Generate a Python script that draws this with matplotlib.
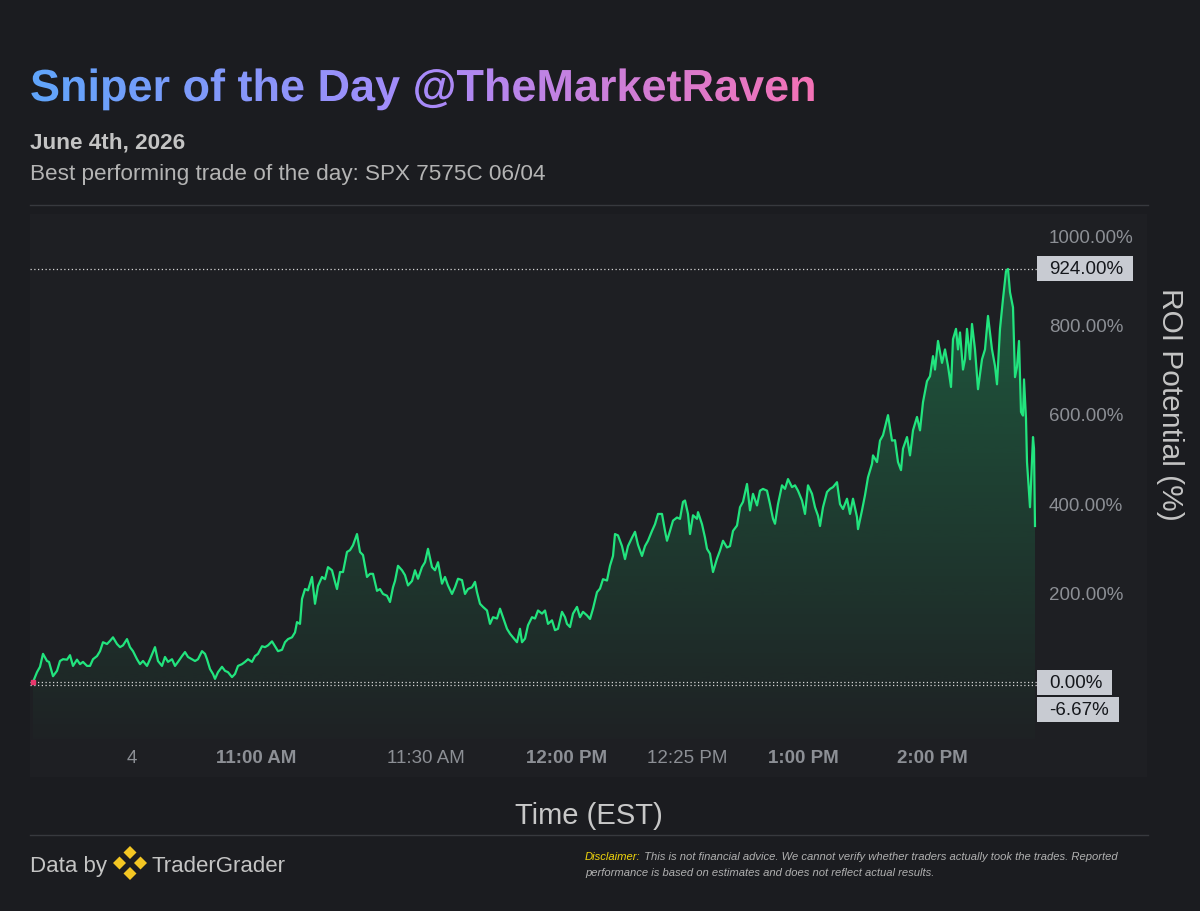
import numpy as np
import matplotlib
matplotlib.use('Agg')
import matplotlib.pyplot as plt
from matplotlib.textpath import TextPath
from matplotlib.font_manager import FontProperties
from matplotlib.patches import PathPatch, Rectangle, Polygon
from matplotlib.transforms import Affine2D
from matplotlib.colors import to_rgb, LinearSegmentedColormap

plt.rcParams['font.family'] = ['Liberation Sans', 'DejaVu Sans']

# time-scale bar index and ROI potential (%)
bars = [3, 7, 10, 13, 17, 19, 23, 27, 30, 33, 37, 40, 43, 47, 50, 53, 57, 60, 63, 67,
        70, 73, 77, 80, 83, 87, 90, 93, 97, 100, 103, 107, 110, 113, 117, 120, 123, 125, 128, 132,
        135, 138, 142, 145, 148, 152, 155, 158, 162, 165, 168, 172, 175, 177, 180, 183, 185, 188, 192, 195,
        198, 202, 205, 208, 212, 215, 218, 222, 225, 228, 232, 235, 238, 242, 245, 248, 252, 255, 258, 262,
        265, 267, 270, 272, 275, 278, 282, 285, 288, 292, 295, 298, 302, 305, 307, 310, 313, 317, 320, 323,
        327, 330, 333, 337, 340, 343, 347, 350, 353, 357, 360, 363, 365, 368, 372, 375, 378, 382, 385, 388,
        392, 395, 398, 402, 405, 408, 412, 415, 418, 422, 425, 428, 432, 435, 438, 442, 445, 447, 450, 453,
        457, 460, 463, 467, 470, 473, 477, 480, 483, 487, 490, 492, 495, 498, 502, 505, 508, 512, 515, 518,
        522, 525, 528, 532, 535, 537, 540, 543, 547, 550, 553, 557, 560, 563, 567, 570, 573, 577, 580, 583,
        585, 588, 592, 595, 598, 602, 605, 608, 612, 615, 618, 622, 625, 628, 632, 635, 637, 640, 643, 647,
        650, 653, 655, 658, 660, 663, 667, 668, 672, 675, 677, 680, 683, 687, 690, 693, 697, 700, 703, 707,
        710, 713, 717, 720, 723, 727, 730, 733, 737, 740, 743, 745, 748, 752, 755, 758, 762, 765, 768, 772,
        775, 778, 782, 785, 788, 790, 793, 797, 800, 803, 807, 810, 813, 817, 820, 823, 827, 828, 832, 835,
        838, 842, 843, 847, 850, 853, 858, 862, 865, 868, 871, 873, 877, 880, 883, 887, 890, 893, 897, 900,
        903, 905, 908, 912, 915, 918, 921, 923, 926, 928, 930, 933, 935, 937, 940, 942, 945, 948, 952, 955,
        958, 962, 965, 967, 970, 973, 976, 978, 980, 983, 985, 987, 989, 991, 993, 994, 996, 997, 1000, 1003,
        1004, 1005]
roi = [0, 22, 34, 63, 47, 45, 13, 25, 47, 51, 50, 60, 36, 50, 40, 45, 36, 36, 51, 58,
       69, 89, 85, 92, 100, 85, 78, 82, 96, 78, 69, 51, 40, 47, 36, 51, 67, 78, 47, 36,
       56, 45, 51, 36, 45, 58, 67, 56, 51, 47, 51, 69, 63, 51, 29, 18, 7, 22, 34, 25,
       22, 11, 18, 36, 40, 45, 51, 45, 58, 63, 80, 78, 82, 91, 80, 69, 72, 89, 96, 100,
       111, 134, 130, 186, 208, 205, 235, 175, 215, 235, 230, 257, 250, 224, 208, 246, 246, 291, 295, 306,
       331, 291, 284, 235, 242, 242, 204, 208, 197, 193, 179, 212, 226, 260, 250, 239, 216, 226, 250, 231,
       257, 268, 298, 257, 250, 268, 220, 235, 216, 197, 212, 231, 228, 197, 208, 212, 224, 201, 175, 168,
       160, 130, 145, 142, 164, 145, 119, 108, 100, 89, 119, 89, 97, 127, 145, 142, 160, 153, 160, 130,
       138, 116, 119, 157, 145, 130, 123, 153, 168, 145, 157, 149, 141, 164, 201, 209, 230, 227, 260, 282,
       331, 328, 304, 275, 304, 323, 336, 307, 282, 304, 316, 338, 353, 376, 376, 338, 316, 338, 361, 368,
       365, 403, 406, 376, 331, 373, 365, 380, 353, 323, 298, 287, 246, 276, 294, 316, 301, 304, 338, 350,
       391, 403, 443, 384, 421, 395, 428, 432, 428, 398, 365, 354, 398, 440, 432, 454, 436, 440, 428, 406,
       376, 440, 421, 391, 372, 349, 391, 425, 432, 436, 447, 398, 387, 410, 376, 410, 369, 342, 384, 418,
       458, 488, 507, 492, 540, 552, 597, 540, 541, 492, 474, 522, 548, 507, 563, 593, 563, 626, 673, 684,
       729, 699, 763, 714, 744, 707, 660, 767, 790, 744, 782, 699, 722, 790, 722, 801, 744, 655, 722, 744,
       819, 744, 707, 666, 790, 857, 919, 924, 872, 838, 682, 705, 763, 604, 596, 677, 589, 492, 391, 548,
       522, 349]

time_ticks = [102, 226, 396, 537, 657, 773, 902]
time_labels = ['4', '11:00 AM', '11:30 AM', '12:00 PM', '12:25 PM', '1:00 PM', '2:00 PM']
time_bold = [False, True, False, True, False, True, True]
roi_ticks = [200, 400, 600, 800, 1000]
peak_roi = 924.00
entry_roi = 0.00
low_roi = -6.67

PAGE = '#1b1c20'
PANEL = '#1e1f23'
SEP = '#37393e'
LINE = '#22e47e'
GREY = '#8c8f95'

fig = plt.figure(figsize=(12, 9.12), dpi=100)
fig.patch.set_facecolor(PAGE)

# overlay in pixel coordinates (y down)
ov = fig.add_axes([0, 0, 1, 1], zorder=0)
ov.axis('off')
ov.add_patch(Rectangle((30, 215), 1117, 563, color=PANEL, lw=0))
ov.plot([30, 1148], [205.5, 205.5], color=SEP, lw=1)
ov.plot([30, 1148], [836.5, 836.5], color=SEP, lw=1)

# gradient title
title = 'Sniper of the Day @TheMarketRaven'
fp = FontProperties(family='Liberation Sans', weight='bold')
tp = TextPath((0, 0), title, size=45, prop=fp)
tpatch = PathPatch(tp, transform=Affine2D().scale(1, -1).translate(30, 102) + ov.transData,
                   lw=0, fc='none')
ov.add_patch(tpatch)
cmap = LinearSegmentedColormap.from_list('tt', ['#60a5fa', '#a78bfa', '#f472b6'])
grad = np.linspace(0, 1, 512).reshape(1, -1)
gim = ov.imshow(grad, cmap=cmap, extent=[30, 30 + tp.get_extents().x1, 115, 60],
                aspect='auto', interpolation='bilinear')
gim.set_clip_path(tpatch)
ov.set_xlim(0, 1200)
ov.set_ylim(912, 0)

ov.text(30, 148, 'June 4th, 2026', fontsize=16.2, fontweight='bold', color='#c4c4c4', va='baseline')
ov.text(30, 180, 'Best performing trade of the day: SPX 7575C 06/04', fontsize=16.2,
        color='#b4b4b4', va='baseline')
ov.text(589, 824, 'Time (EST)', fontsize=21, color='#c8c8c8', ha='center', va='baseline')
ov.text(1170, 404, 'ROI Potential (%)', fontsize=21.5, color='#c4c4c4', rotation=270,
        ha='center', va='center')

# footer
ov.text(30, 872, 'Data by', fontsize=16, color='#c4c4c4', va='baseline')
ov.text(151, 872, 'TraderGrader', fontsize=16, color='#c4c4c4', va='baseline')
for cx, cy in [(130, 853.5), (119.5, 864), (140.5, 864), (130, 874.5)]:
    d = 6.5
    ov.add_patch(Polygon([(cx, cy - d), (cx + d, cy), (cx, cy + d), (cx - d, cy)],
                         closed=True, color='#f3c623', lw=0))
t1 = ov.text(585, 860, 'Disclaimer:', fontsize=8.1, style='italic', color='#f0d50c', va='baseline')
ov.annotate(' This is not financial advice. We cannot verify whether traders actually took the trades. Reported',
            xy=(1, 0), xycoords=t1, fontsize=8.1, style='italic', color='#b0b0b0', va='bottom')
ov.text(585, 876, 'performance is based on estimates and does not reflect actual results.',
        fontsize=8.1, style='italic', color='#b0b0b0', va='baseline')

# chart
ax = fig.add_axes([30 / 1200, 1 - 740 / 912, 1007 / 1200, 525 / 912], zorder=1)
ax.patch.set_alpha(0)
x = np.array(bars)
y = np.array(roi, dtype=float)
y_lo, y_hi = -127.5, 1047

poly = ax.fill_between(x, y, y_lo, facecolor='none', lw=0)
fill = np.zeros((256, 1, 4))
fill[..., :3] = to_rgb(LINE)
fill[:, 0, 3] = np.linspace(0.015, 0.30, 256)
fim = ax.imshow(fill, extent=[x.min(), x.max(), y_lo, y.max()], origin='lower',
                aspect='auto', interpolation='bilinear', zorder=1)
fim.set_clip_path(poly.get_paths()[0], transform=ax.transData)
ax.plot(x, y, color=LINE, lw=1.6, zorder=3, solid_joinstyle='round')
ax.plot(x[0], y[0], marker='s', ms=3.5, color='#e8386d', zorder=4)

for v in [peak_roi, entry_roi, low_roi]:
    ax.axhline(v, color='#d6d6d6', lw=0.9, ls=(0, (1, 2)), zorder=2)

ax.set_xlim(0, 1007)
ax.set_ylim(y_lo, y_hi)
for s in ax.spines.values():
    s.set_visible(False)
ax.yaxis.tick_right()
ax.set_yticks(roi_ticks, [f'{v:.2f}%' for v in roi_ticks])
ax.tick_params(axis='y', length=0, pad=8.6, labelsize=13.5, labelcolor=GREY)
ax.set_xticks(time_ticks, time_labels)
ax.tick_params(axis='x', length=0, pad=7.5, labelsize=13.5, labelcolor=GREY)
for lab, b in zip(ax.get_xticklabels(), time_bold):
    if b:
        lab.set_fontweight('bold')


def py(v):
    return 912 - ax.transData.transform((0, v))[1]


# price labels on the scale
renderer = fig.canvas.get_renderer()
y0 = py(entry_roi)
for v, cy in [(peak_roi, py(peak_roi)), (entry_roi, y0), (low_roi, y0 + 27)]:
    t = ov.text(1049, cy, f'{v:.2f}%', fontsize=13.5, color='#15171c', va='center', zorder=5)
    w = t.get_window_extent(renderer).width
    ov.add_patch(Rectangle((1037, cy - 12.5), w + 22, 25, color='#c8cbd2', lw=0, zorder=4))

fig.savefig('out.png', dpi=100, facecolor=PAGE)
